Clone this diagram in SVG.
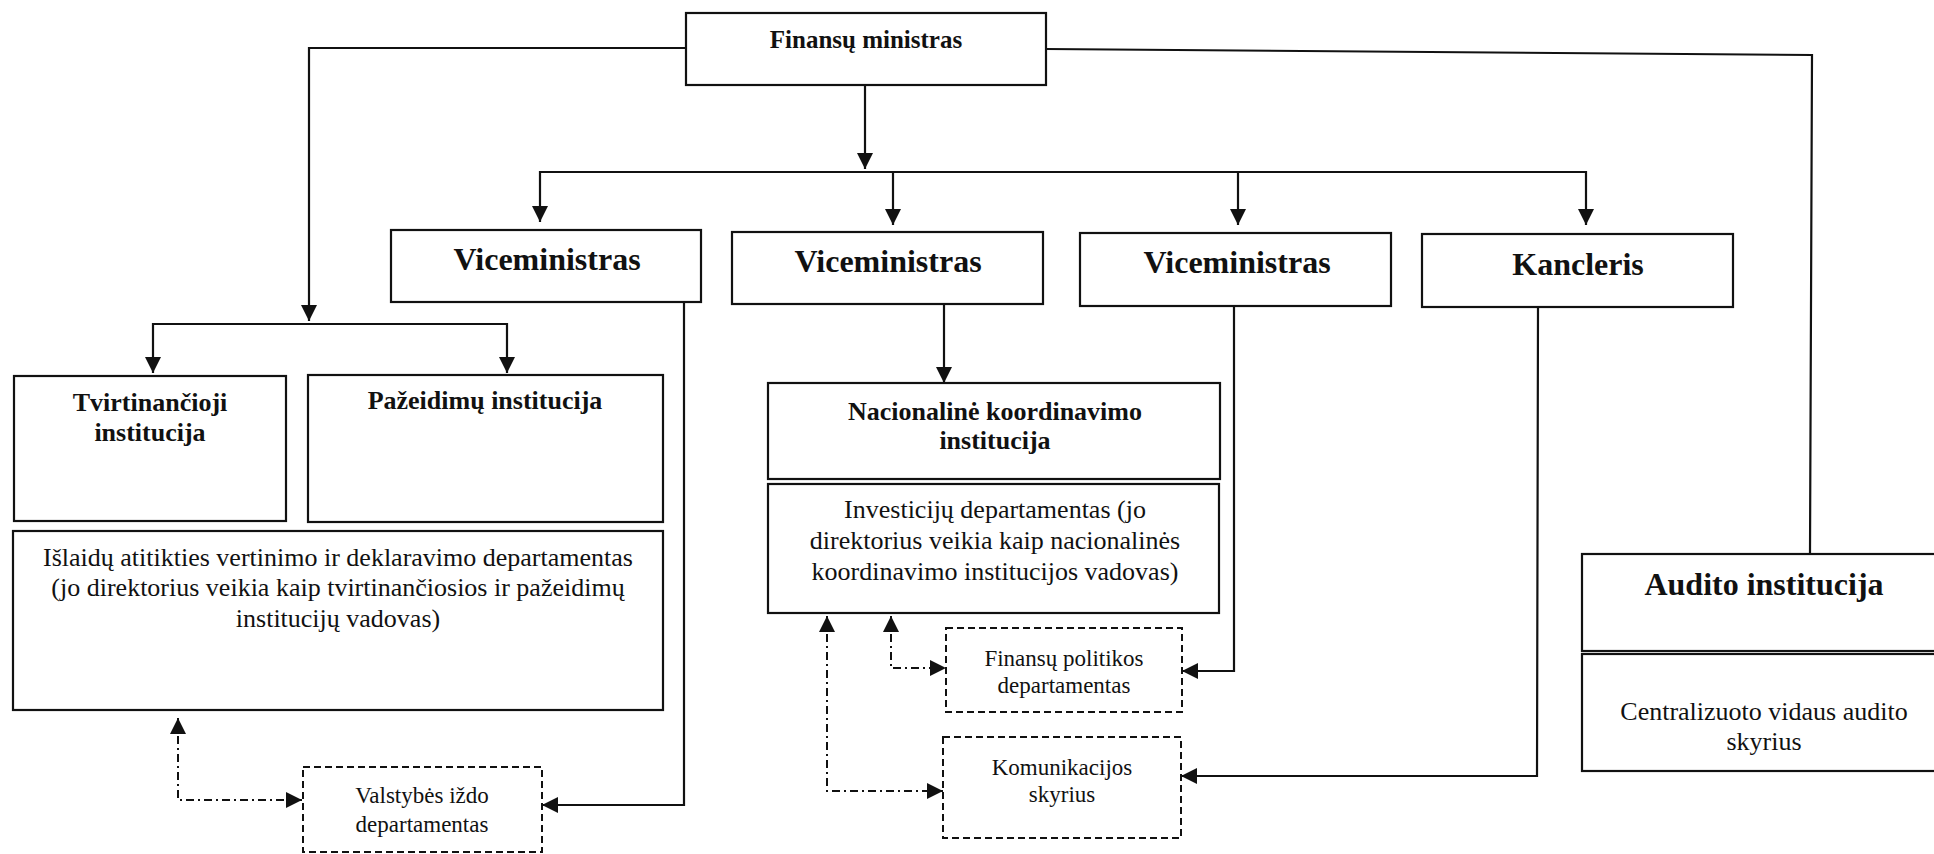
<svg xmlns="http://www.w3.org/2000/svg" width="1934" height="854" viewBox="0 0 1934 854">
<style>
.box{fill:#fff;stroke:#111;stroke-width:2.2}
.dbox{fill:#fff;stroke:#111;stroke-width:2;stroke-dasharray:7 4}
.ln{fill:none;stroke:#111;stroke-width:2.2}
.dd{fill:none;stroke:#111;stroke-width:2;stroke-dasharray:8 4 2 4}
text{font-family:"Liberation Serif","Times New Roman",serif;fill:#111;text-anchor:middle}
.b25{font-size:25px;font-weight:bold}
.b26{font-size:26px;font-weight:bold}
.b32{font-size:32px;font-weight:bold}
.r26{font-size:26px}
.r23{font-size:23px}
</style>
<defs>
<marker id="ah" markerUnits="userSpaceOnUse" markerWidth="16" markerHeight="16" viewBox="0 0 15 15" refX="15" refY="7.5" orient="auto-start-reverse">
<path d="M0,0 L15,7.5 L0,15 z" fill="#111"/>
</marker>
</defs>
<rect width="1934" height="854" fill="#fff"/>
<g id="connectors">
<path class="ln" d="M686,48 L309,48 L309,321" marker-end="url(#ah)"/>
<path class="ln" d="M153,373 L153,324 L507,324 L507,373" marker-start="url(#ah)" marker-end="url(#ah)"/>
<path class="ln" d="M1046,49 L1812,55 L1810,554"/>
<path class="ln" d="M865,85 L865,169" marker-end="url(#ah)"/>
<path class="ln" d="M540,222 L540,172 L1586,172 L1586,225" marker-start="url(#ah)" marker-end="url(#ah)"/>
<path class="ln" d="M893,172 L893,225" marker-end="url(#ah)"/>
<path class="ln" d="M1238,172 L1238,225" marker-end="url(#ah)"/>
<path class="ln" d="M684,302 L684,805 L542,805" marker-end="url(#ah)"/>
<path class="ln" d="M944,304 L944,383" marker-end="url(#ah)"/>
<path class="ln" d="M1234,306 L1234,671 L1182,671" marker-end="url(#ah)"/>
<path class="ln" d="M1538,307 L1537,776 L1181,776" marker-end="url(#ah)"/>
<path class="dd" d="M178,718 L178,800 L302,800" marker-start="url(#ah)" marker-end="url(#ah)"/>
<path class="dd" d="M891,616 L891,668 L946,668" marker-start="url(#ah)" marker-end="url(#ah)"/>
<path class="dd" d="M827,616 L827,791 L943,791" marker-start="url(#ah)" marker-end="url(#ah)"/>
</g>
<g id="finansu-ministras">
<rect class="box" x="686" y="13" width="360" height="72"/>
<text class="b25" x="866" y="48">Finansų ministras</text>
</g>
<g id="viceministras-1">
<rect class="box" x="391" y="230" width="310" height="72"/>
<text class="b32" x="547" y="270">Viceministras</text>
</g>
<g id="viceministras-2">
<rect class="box" x="732" y="232" width="311" height="72"/>
<text class="b32" x="888" y="272">Viceministras</text>
</g>
<g id="viceministras-3">
<rect class="box" x="1080" y="233" width="311" height="73"/>
<text class="b32" x="1237" y="273">Viceministras</text>
</g>
<g id="kancleris">
<rect class="box" x="1422" y="234" width="311" height="73"/>
<text class="b32" x="1578" y="275">Kancleris</text>
</g>
<g id="tvirtinancioji">
<rect class="box" x="14" y="376" width="272" height="145"/>
<text class="b26" x="150" y="411">Tvirtinančioji</text>
<text class="b26" x="150" y="441">institucija</text>
</g>
<g id="pazeidimu">
<rect class="box" x="308" y="375" width="355" height="147"/>
<text class="b26" x="485" y="409">Pažeidimų institucija</text>
</g>
<g id="islaidu">
<rect class="box" x="13" y="531" width="650" height="179"/>
<text class="r26" x="338" y="566">Išlaidų atitikties vertinimo ir deklaravimo departamentas</text>
<text class="r26" x="338" y="596">(jo direktorius veikia kaip tvirtinančiosios ir pažeidimų</text>
<text class="r26" x="338" y="627">institucijų vadovas)</text>
</g>
<g id="valstybes-izdo">
<rect class="dbox" x="303" y="767" width="239" height="85"/>
<text class="r23" x="422" y="803">Valstybės iždo</text>
<text class="r23" x="422" y="832">departamentas</text>
</g>
<g id="nacionaline">
<rect class="box" x="768" y="383" width="452" height="96"/>
<text class="b26" x="995" y="420">Nacionalinė koordinavimo</text>
<text class="b26" x="995" y="449">institucija</text>
</g>
<g id="investiciju">
<rect class="box" x="768" y="484" width="451" height="129"/>
<text class="r26" x="995" y="518">Investicijų departamentas (jo</text>
<text class="r26" x="995" y="549">direktorius veikia kaip nacionalinės</text>
<text class="r26" x="995" y="580">koordinavimo institucijos vadovas)</text>
</g>
<g id="finansu-politikos">
<rect class="dbox" x="946" y="628" width="236" height="84"/>
<text class="r23" x="1064" y="666">Finansų politikos</text>
<text class="r23" x="1064" y="693">departamentas</text>
</g>
<g id="komunikacijos">
<rect class="dbox" x="943" y="737" width="238" height="101"/>
<text class="r23" x="1062" y="775">Komunikacijos</text>
<text class="r23" x="1062" y="802">skyrius</text>
</g>
<g id="audito">
<rect class="box" x="1582" y="554" width="360" height="97"/>
<text class="b32" x="1764" y="595">Audito institucija</text>
</g>
<g id="centralizuoto">
<rect class="box" x="1582" y="654" width="360" height="117"/>
<text class="r26" x="1764" y="720">Centralizuoto vidaus audito</text>
<text class="r26" x="1764" y="750">skyrius</text>
</g>
</svg>
